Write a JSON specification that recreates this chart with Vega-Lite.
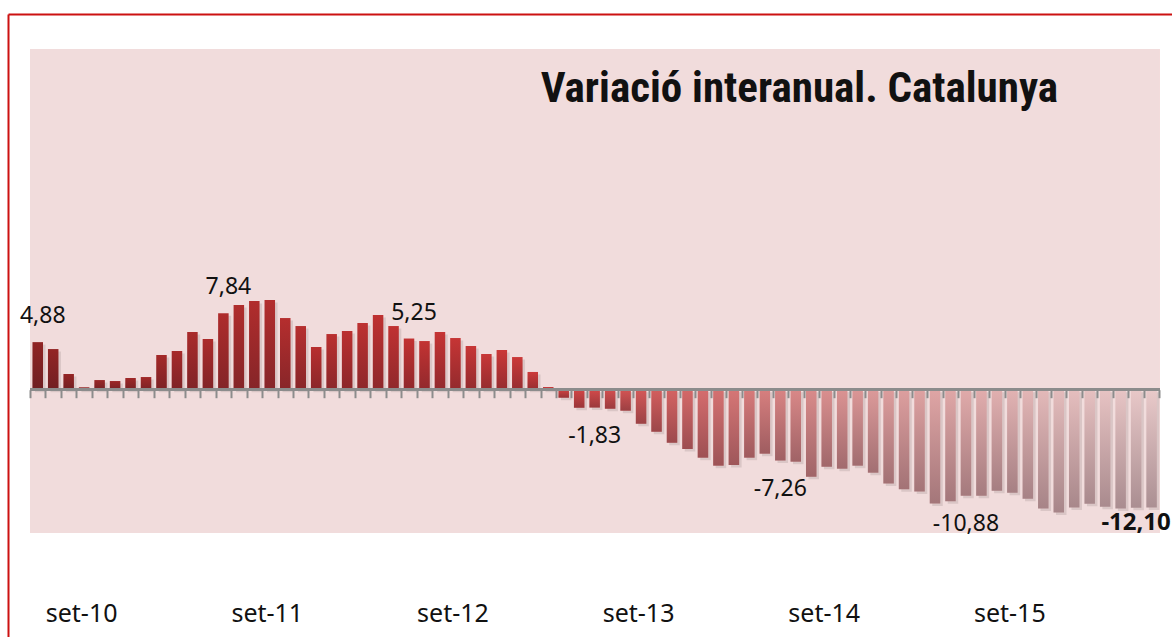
{
  "$schema": "https://vega.github.io/schema/vega-lite/v6.json",
  "width": 1164,
  "height": 623,
  "autosize": {"type": "none"},
  "padding": {"left": 8, "top": 14, "right": 0, "bottom": 0},
  "background": "white",
  "config": {
    "view": {"stroke": null, "fill": "white"},
    "locale": {"number": {"decimal": ",", "thousands": ".", "grouping": [3], "currency": ["", " €"], "minus": "-"}},
    "axis": {"grid": false},
    "axisY": {"domain": true, "domainColor": "#cc1111", "domainWidth": 2, "ticks": false, "labels": false, "title": null, "zindex": 1},
    "font": "Noto Sans"
  },
  "title": {
    "text": "Variació interanual. Catalunya",
    "anchor": "end",
    "frame": "group",
    "font": "Roboto Condensed, DejaVu Sans Condensed",
    "fontSize": 43,
    "fontWeight": "bold",
    "color": "#111111",
    "baseline": "alphabetic",
    "offset": 0,
    "dx": -114,
    "dy": 131
  },
  "data": {"values": [
    {"mes": "2010-06", "n": 0, "v": 4.88},
    {"mes": "2010-07", "n": 1, "v": 4.17},
    {"mes": "2010-08", "n": 2, "v": 1.61},
    {"mes": "2010-09", "n": 3, "v": 0.25},
    {"mes": "2010-10", "n": 4, "v": 0.99},
    {"mes": "2010-11", "n": 5, "v": 0.89},
    {"mes": "2010-12", "n": 6, "v": 1.20},
    {"mes": "2011-01", "n": 7, "v": 1.30},
    {"mes": "2011-02", "n": 8, "v": 3.56},
    {"mes": "2011-03", "n": 9, "v": 3.97},
    {"mes": "2011-04", "n": 10, "v": 5.92},
    {"mes": "2011-05", "n": 11, "v": 5.20},
    {"mes": "2011-06", "n": 12, "v": 7.84},
    {"mes": "2011-07", "n": 13, "v": 8.69},
    {"mes": "2011-08", "n": 14, "v": 9.10},
    {"mes": "2011-09", "n": 15, "v": 9.20},
    {"mes": "2011-10", "n": 16, "v": 7.35},
    {"mes": "2011-11", "n": 17, "v": 6.53},
    {"mes": "2011-12", "n": 18, "v": 4.38},
    {"mes": "2012-01", "n": 19, "v": 5.71},
    {"mes": "2012-02", "n": 20, "v": 6.02},
    {"mes": "2012-03", "n": 21, "v": 6.84},
    {"mes": "2012-04", "n": 22, "v": 7.66},
    {"mes": "2012-05", "n": 23, "v": 6.53},
    {"mes": "2012-06", "n": 24, "v": 5.25},
    {"mes": "2012-07", "n": 25, "v": 4.99},
    {"mes": "2012-08", "n": 26, "v": 5.92},
    {"mes": "2012-09", "n": 27, "v": 5.30},
    {"mes": "2012-10", "n": 28, "v": 4.48},
    {"mes": "2012-11", "n": 29, "v": 3.66},
    {"mes": "2012-12", "n": 30, "v": 4.07},
    {"mes": "2013-01", "n": 31, "v": 3.35},
    {"mes": "2013-02", "n": 32, "v": 1.82},
    {"mes": "2013-03", "n": 33, "v": 0.28},
    {"mes": "2013-04", "n": 34, "v": -0.82},
    {"mes": "2013-05", "n": 35, "v": -1.85},
    {"mes": "2013-06", "n": 36, "v": -1.83},
    {"mes": "2013-07", "n": 37, "v": -1.95},
    {"mes": "2013-08", "n": 38, "v": -2.15},
    {"mes": "2013-09", "n": 39, "v": -3.49},
    {"mes": "2013-10", "n": 40, "v": -4.31},
    {"mes": "2013-11", "n": 41, "v": -5.44},
    {"mes": "2013-12", "n": 42, "v": -6.08},
    {"mes": "2014-01", "n": 43, "v": -6.97},
    {"mes": "2014-02", "n": 44, "v": -7.79},
    {"mes": "2014-03", "n": 45, "v": -7.72},
    {"mes": "2014-04", "n": 46, "v": -6.97},
    {"mes": "2014-05", "n": 47, "v": -6.56},
    {"mes": "2014-06", "n": 48, "v": -7.26},
    {"mes": "2014-07", "n": 49, "v": -7.38},
    {"mes": "2014-08", "n": 50, "v": -8.92},
    {"mes": "2014-09", "n": 51, "v": -7.90},
    {"mes": "2014-10", "n": 52, "v": -8.10},
    {"mes": "2014-11", "n": 53, "v": -7.79},
    {"mes": "2014-12", "n": 54, "v": -8.51},
    {"mes": "2015-01", "n": 55, "v": -9.61},
    {"mes": "2015-02", "n": 56, "v": -10.22},
    {"mes": "2015-03", "n": 57, "v": -10.43},
    {"mes": "2015-04", "n": 58, "v": -11.66},
    {"mes": "2015-05", "n": 59, "v": -11.45},
    {"mes": "2015-06", "n": 60, "v": -10.88},
    {"mes": "2015-07", "n": 61, "v": -10.87},
    {"mes": "2015-08", "n": 62, "v": -10.36},
    {"mes": "2015-09", "n": 63, "v": -10.56},
    {"mes": "2015-10", "n": 64, "v": -11.18},
    {"mes": "2015-11", "n": 65, "v": -12.17},
    {"mes": "2015-12", "n": 66, "v": -12.58},
    {"mes": "2016-01", "n": 67, "v": -12.07},
    {"mes": "2016-02", "n": 68, "v": -11.69},
    {"mes": "2016-03", "n": 69, "v": -12.00},
    {"mes": "2016-04", "n": 70, "v": -12.17},
    {"mes": "2016-05", "n": 71, "v": -12.10},
    {"mes": "2016-06", "n": 72, "v": -12.07}
  ]},
  "layer": [
    {
      "mark": {"type": "rect", "fill": "#f1dcdc"},
      "encoding": {
        "x": {"datum": -0.5, "type": "quantitative", "scale": {"domain": [-1.922, 73.32], "nice": false, "zero": false, "padding": 0}, "axis": null},
        "x2": {"datum": 72.5},
        "y": {"datum": 34.94, "type": "quantitative", "scale": {"domain": [-25.36, 38.53], "nice": false, "zero": false, "padding": 0}},
        "y2": {"datum": -14.70}
      }
    },
    {
      "mark": {"type": "bar", "width": 10.5, "fill": "#3c2828", "opacity": 0.12, "xOffset": 2.5, "yOffset": 2.5},
      "encoding": {
        "x": {"field": "n", "type": "quantitative", "axis": {"orient": "top", "domain": true, "domainColor": "#cc1111", "domainWidth": 2, "ticks": false, "labels": false, "title": null, "zindex": 1}},
        "y": {"field": "v", "type": "quantitative"}
      }
    },
    {
      "mark": {"type": "bar", "width": 10.5},
      "encoding": {
        "x": {"field": "n", "type": "quantitative", "axis": {"orient": "bottom", "offset": -16, "domain": false, "ticks": false, "labelPadding": 0, "labelBaseline": "alphabetic", "labelFont": "Noto Sans", "labelFontSize": 25, "labelColor": "#111111", "labelOffset": -3, "labelOverlap": false, "labelFlush": false, "labelBound": false, "values": [3, 15, 27, 39, 51, 63], "labelExpr": "'set-' + (10 + (datum.value - 3) / 12)", "title": null, "zindex": 1}},
        "y": {"field": "v", "type": "quantitative"},
        "color": {"field": "n", "type": "quantitative", "legend": null, "scale": {"domain": [0, 12, 24, 32, 36, 42, 48, 54, 60, 66, 72], "range": ["#902424", "#ae2c2c", "#c23232", "#cc3a3a", "#d24a4a", "#d46868", "#d88484", "#dc9a9a", "#e0aaaa", "#e4bcbc", "#e9caca"], "interpolate": "rgb"}}
      }
    },
    {
      "mark": {"type": "bar", "width": 10.5, "fill": {"gradient": "linear", "x1": 0, "y1": 0, "x2": 0, "y2": 1, "stops": [{"offset": 0, "color": "rgba(40,20,30,0)"}, {"offset": 1, "color": "rgba(40,20,30,0.32)"}]}},
      "encoding": {
        "x": {"field": "n", "type": "quantitative", "axis": {"orient": "bottom", "offset": -247.3, "domain": false, "labels": false, "ticks": true, "tickSize": 8, "tickWidth": 2, "tickColor": "#8c8c8c", "title": null, "zindex": 1, "values": [-0.5, 0.5, 1.5, 2.5, 3.5, 4.5, 5.5, 6.5, 7.5, 8.5, 9.5, 10.5, 11.5, 12.5, 13.5, 14.5, 15.5, 16.5, 17.5, 18.5, 19.5, 20.5, 21.5, 22.5, 23.5, 24.5, 25.5, 26.5, 27.5, 28.5, 29.5, 30.5, 31.5, 32.5, 33.5, 34.5, 35.5, 36.5, 37.5, 38.5, 39.5, 40.5, 41.5, 42.5, 43.5, 44.5, 45.5, 46.5, 47.5, 48.5, 49.5, 50.5, 51.5, 52.5, 53.5, 54.5, 55.5, 56.5, 57.5, 58.5, 59.5, 60.5, 61.5, 62.5, 63.5, 64.5, 65.5, 66.5, 67.5, 68.5, 69.5, 70.5, 71.5, 72.5]}},
        "y": {"field": "v", "type": "quantitative"}
      }
    },
    {
      "mark": {"type": "rule", "stroke": "#8c8c8c", "strokeWidth": 2.5},
      "encoding": {
        "x": {"datum": -0.5, "type": "quantitative", "axis": null},
        "x2": {"datum": 72.5},
        "y": {"datum": 0, "type": "quantitative"}
      }
    },
    {
      "transform": [{"filter": {"field": "n", "oneOf": [0, 12, 24]}}],
      "mark": {"type": "text", "font": "Noto Sans", "fontSize": 23, "color": "#111111", "baseline": "middle", "dy": -26, "dx": 5},
      "encoding": {
        "x": {"field": "n", "type": "quantitative", "axis": null},
        "y": {"field": "v", "type": "quantitative"},
        "text": {"field": "v", "type": "quantitative", "format": ".2f"}
      }
    },
    {
      "transform": [{"filter": {"field": "n", "oneOf": [36, 48, 60]}}],
      "mark": {"type": "text", "font": "Noto Sans", "fontSize": 23, "color": "#111111", "baseline": "middle", "dy": 28.5},
      "encoding": {
        "x": {"field": "n", "type": "quantitative", "axis": null},
        "y": {"field": "v", "type": "quantitative"},
        "text": {"field": "v", "type": "quantitative", "format": ".2f"}
      }
    },
    {
      "transform": [{"filter": {"field": "n", "oneOf": [71]}}],
      "mark": {"type": "text", "font": "Noto Sans", "fontSize": 24, "fontWeight": "bold", "color": "#111111", "baseline": "middle", "dy": 15, "dx": 0},
      "encoding": {
        "x": {"field": "n", "type": "quantitative", "axis": null},
        "y": {"field": "v", "type": "quantitative"},
        "text": {"field": "v", "type": "quantitative", "format": ".2f"}
      }
    }
  ],
  "resolve": {"axis": {"x": "independent"}}
}
